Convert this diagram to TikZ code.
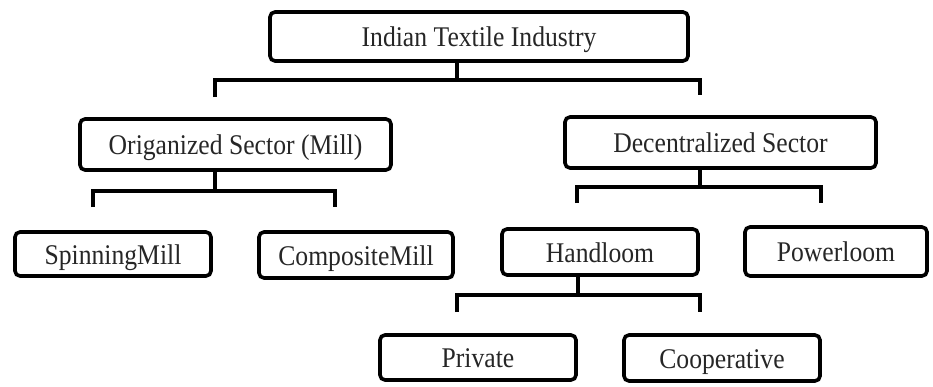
\documentclass[tikz,border=0pt]{standalone}
\usepackage{fontspec}
\setmainfont{Liberation Serif}[FakeStretch=0.9]
\begin{document}
\begin{tikzpicture}[x=1pt,y=-1pt,
  box/.style={draw=black, line width=3.6pt, rounded corners=5pt, fill=white,
    inner sep=0pt, align=center, text=black!85,
    text height=23pt, text depth=3pt,
    font=\fontsize{28.5}{32}\selectfont},
  conn/.style={draw=black, line width=3.8pt}]
\useasboundingbox (0,0) rectangle (933,387);
% nodes
\node[box, minimum width=418pt, minimum height=49pt] (top)   at (479,36.5) {Indian Textile Industry};
\node[box, minimum width=311pt, minimum height=51pt] (org)   at (235.5,144.5) {Origanized Sector (Mill)};
\node[box, minimum width=311pt, minimum height=51pt] (dec)   at (720.5,142.5) {Decentralized Sector};
\node[box, minimum width=196pt, minimum height=44pt] (spin)  at (113,254) {SpinningMill};
\node[box, minimum width=194pt, minimum height=46pt] (comp)  at (356,255) {CompositeMill};
\node[box, minimum width=196pt, minimum height=46pt] (hand)  at (600,252) {Handloom};
\node[box, minimum width=182pt, minimum height=49pt] (power) at (836,251.5) {Powerloom};
\node[box, minimum width=196pt, minimum height=45pt] (priv)  at (478,357.5) {Private};
\node[box, minimum width=196pt, minimum height=46pt] (coop)  at (722,358) {Cooperative};
% connectors
\draw[conn] ([xshift=-22pt]top.south) -- ++(0,-17pt) coordinate (j1);
\draw[conn] ([xshift=-20.5pt,yshift=20pt]org.north) |- (j1) -| ([xshift=-20.5pt,yshift=20pt]dec.north);

\draw[conn] ([xshift=-20.5pt]org.south) -- ++(0,-19pt) coordinate (j2);
\draw[conn] ([xshift=-20pt,yshift=23pt]spin.north) |- (j2) -| ([xshift=-21pt,yshift=23pt]comp.north);

\draw[conn] ([xshift=-20.5pt]dec.south) -- ++(0,-17pt) coordinate (j3);
\draw[conn] ([xshift=-23pt,yshift=24pt]hand.north) |- (j3) -| ([xshift=-15pt,yshift=22pt]power.north);

\draw[conn] ([xshift=-22pt]hand.south) -- ++(0,-18pt) coordinate (j4);
\draw[conn] ([xshift=-21pt,yshift=21pt]priv.north) |- (j4) -| ([xshift=-22pt,yshift=21pt]coop.north);
\end{tikzpicture}
\end{document}
